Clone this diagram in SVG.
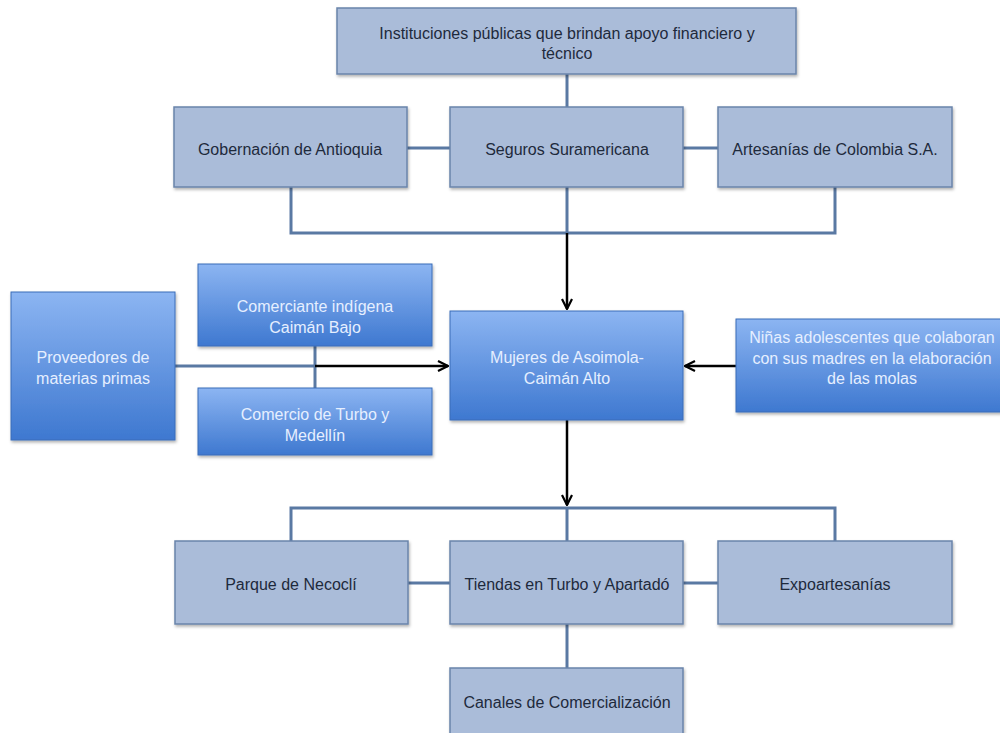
<svg xmlns="http://www.w3.org/2000/svg" width="1000" height="733" viewBox="0 0 1000 733">
<defs>
<linearGradient id="bg" x1="0" y1="0" x2="0" y2="1">
<stop offset="0" stop-color="#8cb5f2"/>
<stop offset="1" stop-color="#3e78d0"/>
</linearGradient>
<filter id="sh" x="-10%" y="-10%" width="130%" height="140%">
<feDropShadow dx="1" dy="2" stdDeviation="1.5" flood-color="#000" flood-opacity="0.3"/>
</filter>
<marker id="ar" viewBox="0 0 12 12" refX="11" refY="6" markerWidth="12" markerHeight="12" markerUnits="userSpaceOnUse" orient="auto">
<path d="M1,1 L11,6 L1,11" fill="none" stroke="#000" stroke-width="2.2"/>
</marker>
<style>
.lb{fill:#aabcd9;stroke:#6a84aa;stroke-width:1.5;filter:url(#sh)}
.bb{fill:url(#bg);stroke:#3a6cb8;stroke-width:1;filter:url(#sh)}
.tl{font-family:"Liberation Sans",Arial,sans-serif;font-size:16px;fill:#1e2a3c;text-anchor:middle}
.tw{font-family:"Liberation Sans",Arial,sans-serif;font-size:16px;fill:#e6efff;text-anchor:middle}
.cn{fill:none;stroke:#5a79a3;stroke-width:3}
.ak{fill:none;stroke:#000;stroke-width:2.5}
</style>
</defs>
<rect width="1000" height="733" fill="#fff"/>
<g id="connectors">
<path class="cn" d="M567,74 V107"/>
<path class="cn" d="M407,148 H450"/>
<path class="cn" d="M683,148 H718"/>
<path class="cn" d="M291,187 V233 H835 V187"/>
<path class="cn" d="M567,187 V233"/>
<path class="ak" d="M567,233 V309" marker-end="url(#ar)"/>
<path class="cn" d="M175,366 H315"/>
<path class="cn" d="M315,346 V388"/>
<path class="ak" d="M315,366 H448" marker-end="url(#ar)"/>
<path class="ak" d="M736,366 H685" marker-end="url(#ar)"/>
<path class="ak" d="M567,420 V505" marker-end="url(#ar)"/>
<path class="cn" d="M291,541 V508 H835 V541"/>
<path class="cn" d="M567,508 V541"/>
<path class="cn" d="M408,583 H450"/>
<path class="cn" d="M683,583 H718"/>
<path class="cn" d="M567,624 V668"/>
</g>
<g id="n-instituciones">
<rect class="lb" x="337" y="8" width="459" height="66"/>
<text class="tl" x="567" y="39">Instituciones públicas que brindan apoyo financiero y</text>
<text class="tl" x="567" y="59">técnico</text>
</g>
<g id="n-gobernacion">
<rect class="lb" x="174" y="107" width="233" height="80"/>
<text class="tl" x="290" y="155">Gobernación de Antioquia</text>
</g>
<g id="n-seguros">
<rect class="lb" x="450" y="107" width="233" height="80"/>
<text class="tl" x="567" y="155">Seguros Suramericana</text>
</g>
<g id="n-artesanias">
<rect class="lb" x="718" y="107" width="234" height="80"/>
<text class="tl" x="835" y="155">Artesanías de Colombia S.A.</text>
</g>
<g id="n-proveedores">
<rect class="bb" x="11" y="292" width="164" height="148"/>
<text class="tw" x="93" y="363">Proveedores de</text>
<text class="tw" x="93" y="384">materias primas</text>
</g>
<g id="n-comerciante">
<rect class="bb" x="198" y="264" width="234" height="82"/>
<text class="tw" x="315" y="312">Comerciante indígena</text>
<text class="tw" x="315" y="333">Caimán Bajo</text>
</g>
<g id="n-comercio">
<rect class="bb" x="198" y="388" width="234" height="67"/>
<text class="tw" x="315" y="420">Comercio de Turbo y</text>
<text class="tw" x="315" y="441">Medellín</text>
</g>
<g id="n-mujeres">
<rect class="bb" x="450" y="311" width="233" height="109"/>
<text class="tw" x="567" y="363">Mujeres de Asoimola-</text>
<text class="tw" x="567" y="384">Caimán Alto</text>
</g>
<g id="n-ninas">
<rect class="bb" x="736" y="319" width="270" height="93"/>
<text class="tw" x="872" y="343">Niñas adolescentes que colaboran</text>
<text class="tw" x="872" y="364">con sus madres en la elaboración</text>
<text class="tw" x="872" y="384">de las molas</text>
</g>
<g id="n-parque">
<rect class="lb" x="175" y="541" width="233" height="83"/>
<text class="tl" x="291" y="590">Parque de Necoclí</text>
</g>
<g id="n-tiendas">
<rect class="lb" x="450" y="541" width="233" height="83"/>
<text class="tl" x="567" y="590">Tiendas en Turbo y Apartadó</text>
</g>
<g id="n-expo">
<rect class="lb" x="718" y="541" width="234" height="83"/>
<text class="tl" x="835" y="590">Expoartesanías</text>
</g>
<g id="n-canales">
<rect class="lb" x="450" y="668" width="233" height="80"/>
<text class="tl" x="567" y="708">Canales de Comercialización</text>
</g>
</svg>
